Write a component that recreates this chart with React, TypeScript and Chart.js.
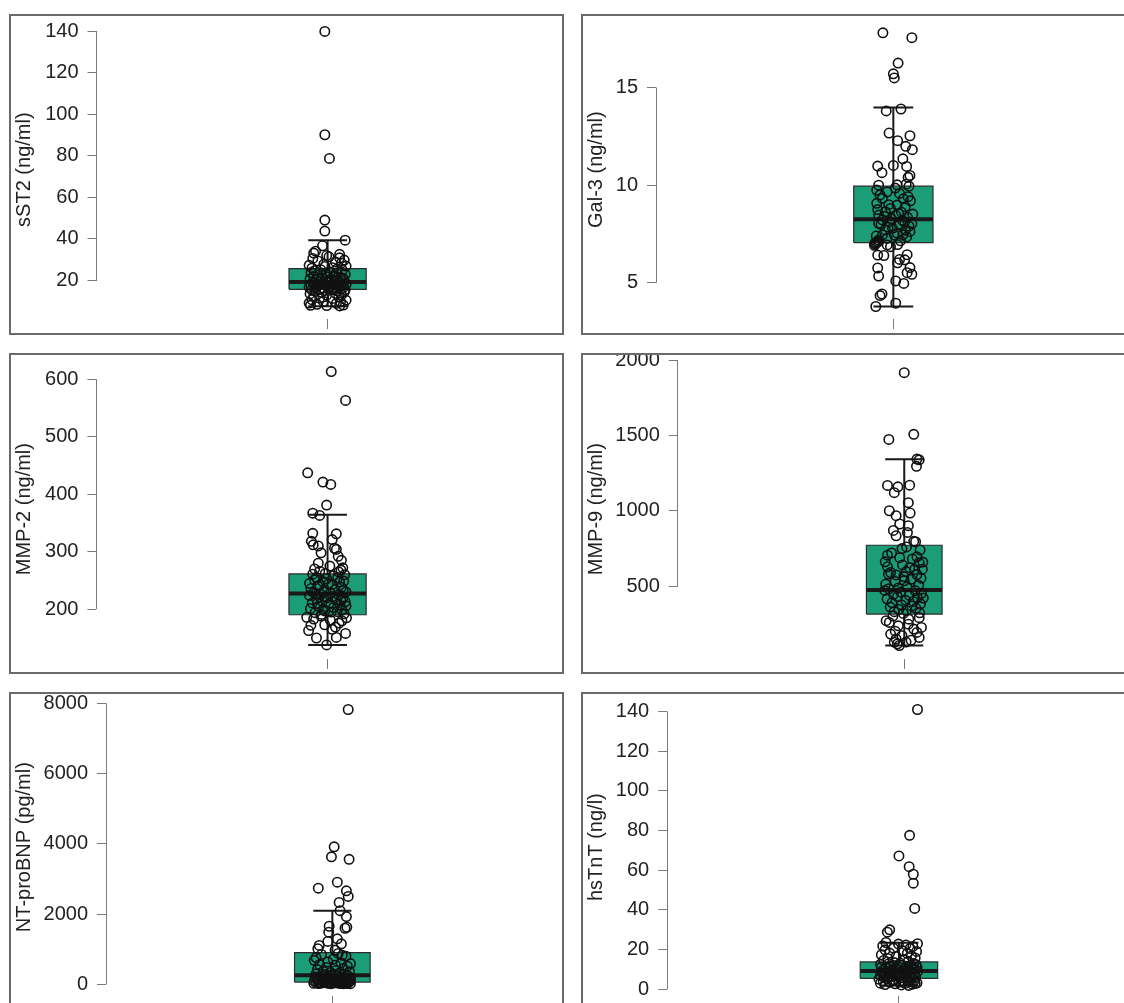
import React, { useEffect, useRef } from 'react';
import { Chart, registerables } from 'chart.js';

Chart.register(...registerables);

const FONT = "'Liberation Sans', Arial, Helvetica, sans-serif";

// ---------------- data ----------------
const axisTitles = ['sST2 (ng/ml)', 'Gal-3 (ng/ml)', 'MMP-2 (ng/ml)', 'MMP-9 (ng/ml)', 'NT-proBNP (pg/ml)', 'hsTnT (ng/l)'];

const sst2Ticks = [20, 40, 60, 80, 100, 120, 140];
const gal3Ticks = [5, 10, 15];
const mmp2Ticks = [200, 300, 400, 500, 600];
const mmp9Ticks = [500, 1000, 1500, 2000];
const ntprobnpTicks = [0, 2000, 4000, 6000, 8000];
const hstntTicks = [0, 20, 40, 60, 80, 100, 120, 140];

// box statistics: [lower whisker, Q1, median, Q3, upper whisker]
const sst2Box = [7.6, 15.7, 19.2, 25.7, 39.4];
const gal3Box = [3.79, 7.06, 8.26, 9.95, 13.97];
const mmp2Box = [138, 190.4, 227.5, 261.4, 364];
const mmp9Box = [105, 314, 474, 771, 1342];
const ntprobnpBox = [20, 65, 263, 904, 2099];
const hstntBox = [2.0, 5.5, 9.2, 13.8, 23.5];

// individual observations (y) and their horizontal jitter (x offset from group centre)
const sst2Values = [
  140, 90.2, 78.8, 49.1, 43.8, 39.4, 36.7, 34.1, 33.2, 32.6,
  32.0, 31.4, 30.9, 30.6, 29.8, 29.4, 28.9, 28.3, 27.9, 27.3,
  26.9, 26.7, 26.1, 25.9, 25.6, 25.2, 24.9, 24.7, 24.1, 23.8,
  23.5, 23.3, 22.9, 22.6, 22.2, 22.0, 21.7, 21.5, 21.2, 20.9,
  20.7, 20.4, 20.3, 20.0, 19.8, 19.6, 19.5, 19.4, 19.3, 19.1,
  18.9, 18.8, 18.6, 18.4, 18.2, 18.1, 17.8, 17.6, 17.5, 17.2,
  17.0, 16.9, 16.7, 16.6, 16.4, 16.2, 16.1, 15.9, 15.8, 15.7,
  15.6, 15.5, 15.4, 15.2, 15.0, 14.7, 14.4, 14.3, 13.8, 13.6,
  13.1, 12.9, 12.3, 12.1, 11.5, 11.3, 10.7, 10.5, 9.9, 9.7,
  9.1, 8.9, 8.5, 8.1, 8.0, 7.9, 7.7,
];
const sst2Jitter = [
  -0.006, -0.006, 0.004, -0.006, -0.006, 0.038, -0.011, -0.026, -0.030, 0.026,
  -0.002, 0.003, 0.026, -0.032, 0.036, -0.021, 0.017, 0.030, -0.008, -0.040,
  0.040, -0.006, 0.011, -0.034, 0.021, -0.015, 0.032, -0.028, 0.006, -0.036,
  0.019, -0.004, 0.038, -0.021, 0.013, -0.030, 0.000, 0.028, -0.013, 0.034,
  -0.038, 0.009, -0.024, 0.021, -0.002, 0.036, -0.017, 0.015, -0.032, 0.004,
  -0.009, 0.025, -0.030, 0.011, -0.019, 0.040, -0.004, 0.030, -0.036, 0.006,
  -0.023, 0.019, -0.040, 0.034, -0.011, 0.013, -0.028, 0.002, 0.028, -0.015,
  0.038, -0.034, 0.009, -0.006, 0.021, -0.026, 0.036, -0.013, 0.017, -0.038,
  0.030, -0.002, -0.030, 0.024, -0.017, 0.011, -0.034, 0.040, -0.009, 0.028,
  -0.040, 0.019, -0.023, 0.034, -0.037, -0.002, 0.026,
];

const gal3Values = [
  17.8, 17.55, 16.25, 15.7, 15.49, 13.8, 13.9, 12.67, 12.53, 12.28,
  11.99, 11.82, 11.35, 10.98, 11.01, 10.96, 10.64, 10.5, 10.4, 10.0,
  10.02, 10.05, 9.95, 9.75, 9.66, 9.58, 9.41, 9.32, 9.3, 8.98,
  9.07, 8.81, 8.64, 8.62, 8.52, 8.47, 8.45, 8.22, 8.13, 8.11,
  8.05, 8.03, 7.96, 7.79, 7.71, 7.69, 7.63, 7.45, 7.44, 7.47,
  7.2, 7.28, 7.03, 7.12, 6.96, 6.94, 6.42, 6.4, 6.44, 6.2,
  6.18, 6.03, 5.78, 5.76, 5.35, 5.52, 5.44, 5.1, 4.97, 4.43,
  4.35, 3.96, 3.79, 9.85, 9.5, 9.2, 9.0, 8.9, 8.75, 8.55,
  8.4, 8.35, 8.28, 8.2, 8.0, 7.9, 7.85, 7.55, 7.4, 7.35,
  7.15, 7.05, 6.98, 7.1, 6.92, 6.85,
];
const gal3Jitter = [
  -0.022, 0.039, 0.010, 0.000, 0.002, -0.015, 0.016, -0.009, 0.035, 0.009,
  0.026, 0.040, 0.020, -0.033, 0.000, 0.028, -0.024, 0.035, 0.031, -0.031,
  0.008, 0.027, 0.033, -0.035, -0.013, 0.013, 0.031, -0.023, 0.021, 0.008,
  -0.035, -0.006, -0.017, 0.017, 0.041, -0.031, 0.005, -0.023, -0.008, 0.024,
  -0.031, 0.039, 0.013, -0.002, -0.017, 0.025, 0.035, -0.023, 0.002, 0.020,
  -0.031, -0.013, -0.039, -0.031, 0.009, -0.013, -0.033, -0.020, 0.029, 0.013,
  0.024, 0.009, 0.035, -0.033, -0.031, 0.029, 0.039, 0.005, 0.022, -0.024,
  -0.028, 0.005, -0.037, 0.004, -0.028, 0.036, -0.010, 0.025, -0.033, 0.011,
  -0.019, 0.030, -0.004, 0.019, -0.026, 0.033, -0.011, 0.008, -0.036, 0.028,
  0.015, -0.036, -0.038, -0.034, -0.040, -0.006,
];

const mmp2Values = [
  613, 563, 437, 421, 417, 381, 367, 363, 332, 331,
  318, 312, 321, 310, 306, 304, 298, 292, 272, 268,
  266, 261, 260, 255, 253, 247, 245, 248, 243, 258,
  251, 249, 244, 240, 238, 236, 234, 232, 230, 229,
  228, 226, 225, 224, 222, 221, 219, 218, 216, 214,
  213, 211, 209, 207, 205, 203, 201, 199, 197, 196,
  194, 192, 191, 186, 172, 163, 150, 138, 151, 158,
  169, 180, 185, 173, 181, 188, 176, 183, 165, 255,
  242, 233, 227, 220, 215, 210, 206, 200, 195, 262,
  265, 270, 275, 280, 285,
];
const mmp2Jitter = [
  0.008, 0.039, -0.043, -0.010, 0.007, -0.002, -0.032, -0.017, -0.032, 0.019,
  -0.035, -0.031, 0.010, -0.020, 0.015, 0.019, -0.014, 0.023, 0.033, 0.029,
  -0.017, -0.032, 0.037, -0.024, -0.002, 0.026, -0.039, -0.010, 0.010, 0.012,
  -0.028, 0.035, 0.002, -0.021, 0.030, -0.036, 0.016, -0.008, 0.040, -0.030,
  0.006, -0.015, 0.024, -0.039, 0.011, -0.004, 0.033, -0.024, 0.019, -0.011,
  0.038, -0.033, 0.003, 0.027, -0.019, 0.013, -0.037, 0.031, -0.006, 0.021,
  -0.027, 0.036, -0.013, -0.045, -0.036, -0.041, -0.024, -0.002, 0.019, 0.039,
  0.017, 0.031, 0.041, -0.006, 0.006, -0.014, 0.025, -0.030, 0.010, 0.022,
  -0.017, 0.034, -0.026, 0.000, 0.029, -0.022, 0.040, -0.009, 0.008, -0.005,
  0.024, -0.028, 0.005, -0.020, 0.030,
];

const mmp9Values = [
  1917, 1474, 1508, 1343, 1338, 1295, 1168, 1159, 1170, 1120,
  1054, 1000, 967, 985, 912, 901, 869, 856, 834, 797,
  795, 749, 705, 694, 688, 661, 655, 659, 628, 622,
  596, 574, 576, 563, 552, 513, 487, 740, 720, 680,
  640, 610, 590, 545, 530, 505, 495, 482, 470, 460,
  452, 445, 438, 430, 422, 415, 405, 398, 390, 382,
  375, 368, 360, 352, 345, 338, 330, 322, 318, 301,
  290, 258, 236, 247, 214, 181, 192, 170, 149, 159,
  127, 105, 116, 128, 280, 270, 225, 200, 140, 760,
  612, 580, 535, 471, 420,
];
const mmp9Jitter = [
  0.000, -0.034, 0.021, 0.028, 0.033, 0.027, -0.037, -0.014, 0.012, -0.022,
  0.009, -0.033, -0.018, 0.013, -0.010, 0.009, -0.024, 0.007, -0.018, 0.021,
  0.025, -0.005, -0.037, 0.028, -0.010, -0.042, 0.033, 0.041, -0.037, 0.012,
  0.004, -0.018, 0.028, -0.001, 0.037, -0.041, -0.013, 0.035, -0.028, 0.018,
  -0.004, 0.023, -0.030, 0.015, -0.020, 0.032, 0.006, -0.034, 0.024, -0.008,
  0.038, -0.024, 0.011, -0.015, 0.029, -0.038, 0.003, 0.020, -0.027, 0.036,
  -0.006, 0.016, -0.031, 0.026, -0.012, 0.005, -0.022, 0.034, -0.002, -0.025,
  0.033, -0.033, -0.013, 0.009, 0.021, -0.030, 0.028, -0.005, -0.018, 0.033,
  -0.022, -0.011, -0.015, 0.004, 0.010, -0.040, 0.038, -0.020, 0.015, 0.005,
  0.040, -0.035, 0.000, -0.043, 0.042,
];

const ntprobnpValues = [
  7822, 3914, 3631, 3558, 2908, 2739, 2663, 2502, 2333, 2098,
  1929, 1655, 1626, 1598, 1485, 1297, 1222, 1110, 1015, 1156,
  978, 762, 828, 593, 640, 546, 880, 851, 803, 718,
  684, 612, 561, 517, 482, 447, 423, 398, 377, 362,
  338, 317, 301, 288, 279, 271, 256, 238, 227, 208,
  196, 182, 168, 161, 148, 141, 128, 121, 113, 104,
  97, 91, 87, 79, 76, 71, 67, 233, 189, 136,
  62, 58, 55, 51, 48, 44, 42, 39, 37, 34,
  32, 29, 28, 26, 24, 22, 21, 20, 60, 50,
];
const ntprobnpJitter = [
  0.035, 0.004, -0.002, 0.037, 0.011, -0.031, 0.031, 0.035, 0.015, 0.017,
  0.031, -0.007, 0.032, 0.028, -0.008, 0.011, -0.010, -0.029, -0.032, 0.020,
  0.006, -0.036, 0.022, 0.040, -0.010, 0.007, 0.013, -0.024, 0.030, 0.002,
  -0.040, 0.019, -0.028, 0.033, -0.013, 0.024, -0.033, 0.008, -0.020, 0.038,
  -0.004, 0.015, -0.036, 0.026, -0.016, 0.004, 0.033, -0.026, 0.011, -0.038,
  0.021, -0.009, 0.036, -0.022, 0.006, 0.028, -0.032, 0.015, -0.014, 0.040,
  -0.040, 0.002, 0.024, -0.019, 0.031, -0.006, 0.017, 0.000, 0.040, -0.001,
  -0.029, 0.010, 0.036, -0.015, 0.022, -0.035, 0.004, 0.029, -0.024, 0.013,
  -0.041, 0.034, -0.009, 0.019, -0.030, 0.040, -0.003, 0.025, -0.019, 0.031,
];

const hstntValues = [
  141, 77.6, 67.2, 61.8, 58, 53.5, 40.8, 28.8, 30, 23,
  23.6, 22.8, 22.4, 21.9, 21.6, 20.8, 20.6, 19.9, 19.4, 19.1,
  18.3, 18.1, 17.4, 16.8, 16.6, 15.8, 15.6, 14.9, 14.6, 14.1,
  13.5, 13.0, 12.6, 12.2, 11.8, 11.4, 11.0, 10.7, 10.4, 10.1,
  9.8, 9.5, 9.3, 12.9, 11.6, 10.9, 10.2, 9.6, 13.2, 11.1,
  9.9, 12.4, 9.0, 8.7, 8.4, 8.1, 7.8, 7.5, 7.2, 6.9,
  6.6, 6.3, 6.0, 5.8, 5.6, 8.9, 8.2, 7.6, 7.0, 6.4,
  5.9, 8.5, 7.3, 6.7, 5.3, 5.0, 4.8, 4.5, 4.2, 4.0,
  3.8, 3.5, 3.3, 3.1, 3.0, 2.8, 2.6, 2.4, 2.2, 2.0,
  5.1, 4.6, 3.6, 2.9,
];
const hstntJitter = [
  0.040, 0.023, 0.000, 0.022, 0.031, 0.031, 0.034, -0.025, -0.020, 0.040,
  -0.028, -0.001, 0.015, -0.035, 0.030, -0.012, 0.024, -0.030, 0.008, 0.038,
  -0.020, 0.018, -0.038, 0.027, -0.006, 0.035, -0.024, 0.011, -0.033, 0.020,
  -0.010, 0.032, -0.040, 0.005, 0.026, -0.018, 0.039, -0.029, 0.013, -0.004,
  0.022, -0.035, 0.010, -0.022, 0.017, -0.008, 0.034, -0.015, 0.003, -0.038,
  0.029, 0.037, -0.024, 0.018, -0.037, 0.030, -0.006, 0.024, -0.029, 0.010,
  -0.016, 0.036, -0.032, 0.004, 0.027, 0.040, -0.011, 0.000, -0.040, 0.015,
  -0.021, 0.012, 0.034, -0.003, -0.026, 0.019, -0.010, 0.033, -0.034, 0.008,
  0.025, -0.020, 0.039, -0.040, 0.013, -0.008, 0.029, -0.030, 0.005, 0.021,
  -0.043, -0.015, 0.000, 0.035,
];

// ---------------- layout (positions / axis ranges) ----------------
const panelLayouts = [
  { left: 9, top: 14, axisX: 87.5, padTop: 3, padBottom: 16, padRight: 1.5, yMin: 1.41, yMax: 145.36 },
  { left: 581, top: 14, axisX: 75, padTop: 3, padBottom: 16, padRight: 1, yMin: 3.15, yMax: 18.44 },
  { left: 9, top: 353, axisX: 87.4, padTop: 3, padBottom: 15, padRight: 1.4, yMin: 113.5, yMax: 634.4 },
  { left: 581, top: 353, axisX: 96.8, padTop: 2, padBottom: 15, padRight: 1.6, yMin: 15.4, yMax: 2006 },
  { left: 9, top: 692, axisX: 97, padTop: 4, padBottom: 17, padRight: 0.4, yMin: -330, yMax: 8141 },
  { left: 581, top: 692, axisX: 86.2, padTop: 4, padBottom: 17, padRight: 1.6, yMin: -3.35, yMax: 146.65 },
];

const panelData = [
  { values: sst2Values, jitter: sst2Jitter, box: sst2Box, ticks: sst2Ticks },
  { values: gal3Values, jitter: gal3Jitter, box: gal3Box, ticks: gal3Ticks },
  { values: mmp2Values, jitter: mmp2Jitter, box: mmp2Box, ticks: mmp2Ticks },
  { values: mmp9Values, jitter: mmp9Jitter, box: mmp9Box, ticks: mmp9Ticks },
  { values: ntprobnpValues, jitter: ntprobnpJitter, box: ntprobnpBox, ticks: ntprobnpTicks },
  { values: hstntValues, jitter: hstntJitter, box: hstntBox, ticks: hstntTicks },
];

const CANVAS_W = 556;
const CANVAS_H = 321;
const BOX_HALF = 0.0835;
const CAP_HALF = 0.042;
const BOX_FILL = '#1B9E77';
const AXIS_GREY = '#7a7a7a';

const rStylePlugin = {
  id: 'rStyle',
  afterDraw(chart: any) {
    const { ctx, chartArea, scales } = chart;
    const y = scales.y;
    const t = y.ticks;
    ctx.save();
    // axis line spanning first to last tick (R style)
    const ax = Math.round(chartArea.left - 0.5) + 0.5;
    ctx.strokeStyle = AXIS_GREY;
    ctx.lineWidth = 1;
    ctx.beginPath();
    ctx.moveTo(ax, y.getPixelForValue(t[0].value));
    ctx.lineTo(ax, y.getPixelForValue(t[t.length - 1].value));
    ctx.stroke();
    // figure frame
    ctx.strokeStyle = '#6a6a6a';
    ctx.lineWidth = 2;
    ctx.strokeRect(1, 1, chart.width - 3, chart.height - 2);
    ctx.restore();
  },
};

function BoxPanel({ index }: { index: number }) {
  const ref = useRef<HTMLCanvasElement>(null);
  useEffect(() => {
    const canvas = ref.current;
    if (!canvas) return;
    const lay = panelLayouts[index];
    const d = panelData[index];
    const [lo, q1, med, q3, hi] = d.box;
    const points = d.values.map((v, i) => ({ x: 1 + d.jitter[i], y: v }));
    const seg = (data: any[], width: number, order: number) => ({
      type: 'line',
      data,
      borderColor: '#1a1a1a',
      borderWidth: width,
      pointRadius: 0,
      fill: false,
      tension: 0,
      order,
    });
    const chart = new Chart(canvas, {
      type: 'scatter',
      data: {
        datasets: [
          {
            type: 'scatter',
            data: points,
            pointRadius: 4.7,
            pointBorderWidth: 1.6,
            pointBackgroundColor: 'rgba(0,0,0,0)',
            pointBorderColor: '#111',
            order: 0,
          },
          seg([{ x: 1 - BOX_HALF, y: med }, { x: 1 + BOX_HALF, y: med }], 4, 1),
          seg([{ x: 1, y: q3 }, { x: 1, y: hi }], 2, 2),
          seg([{ x: 1, y: q1 }, { x: 1, y: lo }], 2, 2),
          seg([{ x: 1 - CAP_HALF, y: hi }, { x: 1 + CAP_HALF, y: hi }], 2, 2),
          seg([{ x: 1 - CAP_HALF, y: lo }, { x: 1 + CAP_HALF, y: lo }], 2, 2),
          {
            type: 'line',
            data: [
              { x: 1 - BOX_HALF, y: q1 },
              { x: 1 + BOX_HALF, y: q1 },
              { x: 1 + BOX_HALF, y: q3 },
              { x: 1 - BOX_HALF, y: q3 },
              { x: 1 - BOX_HALF, y: q1 },
            ],
            borderColor: '#2b2b2b',
            borderWidth: 1.2,
            backgroundColor: BOX_FILL,
            fill: 'shape',
            pointRadius: 0,
            tension: 0,
            order: 5,
          },
        ] as any,
      },
      options: {
        responsive: false,
        animation: false,
        events: [],
        layout: { padding: { left: 0, right: lay.padRight, top: lay.padTop, bottom: lay.padBottom } },
        plugins: { legend: { display: false }, tooltip: { enabled: false }, title: { display: false } },
        scales: {
          x: {
            type: 'linear',
            position: 'bottom',
            min: 0.5,
            max: 1.5,
            afterBuildTicks: (s: any) => { s.ticks = [{ value: 1 }]; },
            afterFit: (s: any) => { s.height = 0; s.paddingLeft = 0; s.paddingRight = 0; },
            ticks: { display: false },
            grid: { display: true, drawOnChartArea: false, drawTicks: true, tickLength: 10, tickColor: AXIS_GREY, tickWidth: 1 },
            border: { display: false },
          },
          y: {
            type: 'linear',
            position: 'left',
            min: lay.yMin,
            max: lay.yMax,
            afterBuildTicks: (s: any) => { s.ticks = d.ticks.map((v) => ({ value: v })); },
            afterFit: (s: any) => { s.width = lay.axisX; s.paddingTop = 0; s.paddingBottom = 0; },
            ticks: {
              autoSkip: false,
              padding: 9,
              color: '#222',
              font: { family: FONT, size: 20 },
              callback: (v: any) => String(v),
            },
            grid: { display: true, drawOnChartArea: false, drawTicks: true, tickLength: 9, tickColor: AXIS_GREY, tickWidth: 1 },
            border: { display: false },
            title: {
              display: true,
              text: axisTitles[index],
              color: '#222',
              font: { family: FONT, size: 20 },
              padding: { top: 3.5, bottom: 0 },
            },
          },
        },
      } as any,
      plugins: [rStylePlugin],
    });
    return () => chart.destroy();
  }, [index]);
  return <canvas ref={ref} width={CANVAS_W} height={CANVAS_H} style={{ display: 'block' }} />;
}

export default function App() {
  return (
    <div style={{ position: 'absolute', left: 0, top: 0, width: 1124, height: 1003, overflow: 'hidden', background: '#fff' }}>
      {panelLayouts.map((lay, i) => (
        <div key={i} style={{ position: 'absolute', left: lay.left, top: lay.top, width: CANVAS_W, height: CANVAS_H }}>
          <BoxPanel index={i} />
        </div>
      ))}
    </div>
  );
}
